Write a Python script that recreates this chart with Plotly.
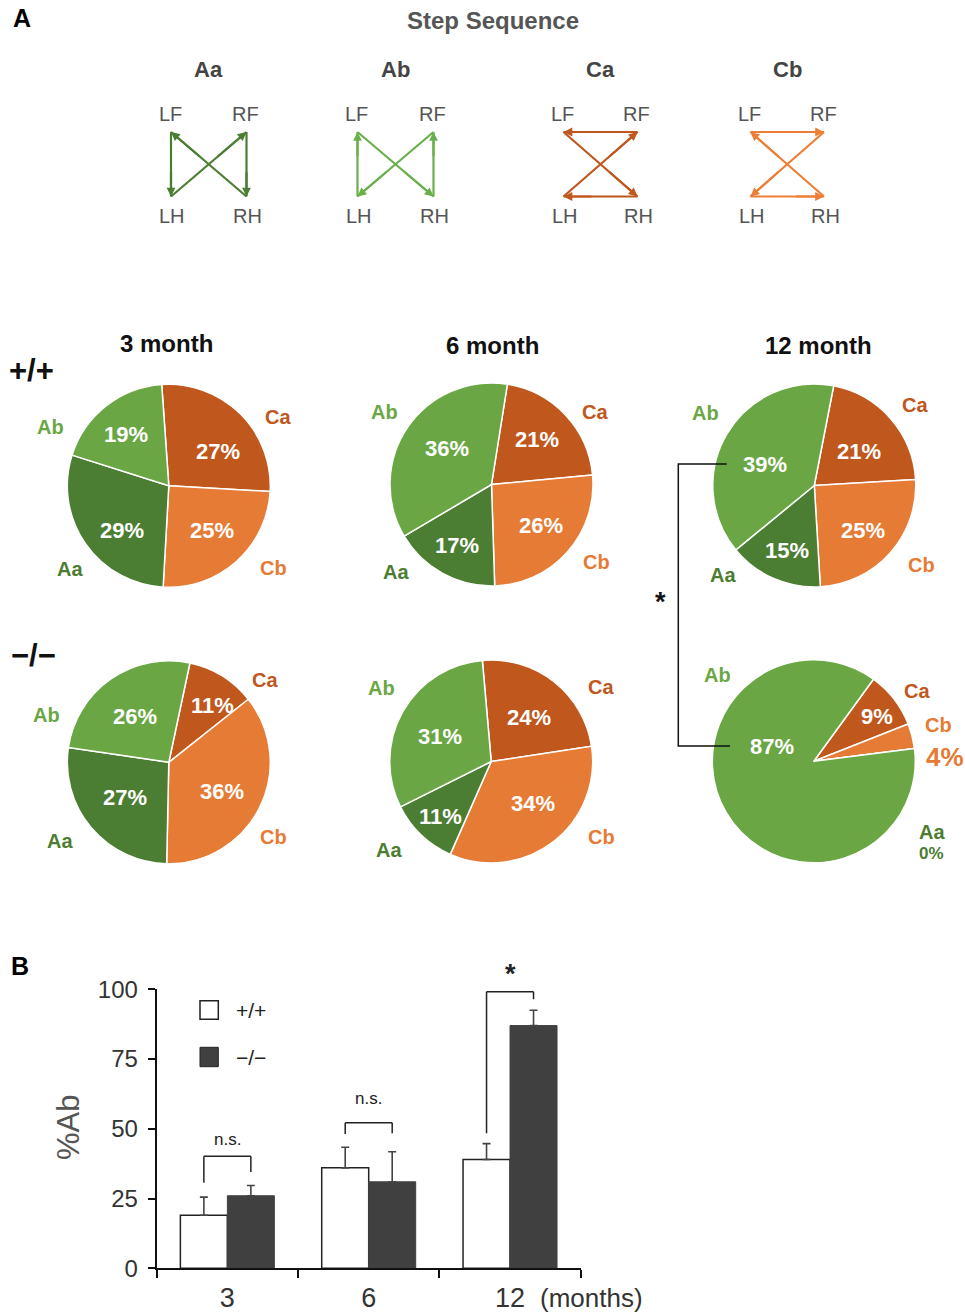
import plotly.graph_objects as go

W, H = 965, 1313

# ---------------- data ----------------
patterns = ["Ca", "Cb", "Aa", "Ab"]            # slice order, clockwise
pattern_colors = ["#c0571d", "#e57b35", "#4b7d32", "#6aa744"]

pie_months = ["3 month", "6 month", "12 month"]
genotypes = ["+/+", "\u2212/\u2212"]
wt_3m = [27, 25, 29, 19]
wt_6m = [21, 26, 17, 36]
wt_12m = [21, 25, 15, 39]
ko_3m = [11, 36, 27, 26]
ko_6m = [24, 34, 11, 31]
ko_12m = [9, 4, 0, 87]

bar_months = ["3", "6", "12"]
ab_wt = [19, 36, 39]
ab_ko = [26, 31, 87]
sem_wt = [6.5, 7.4, 5.7]
sem_ko = [3.7, 10.8, 5.5]
sig_labels = ["n.s.", "n.s.", "*"]

step_names = ["Aa", "Ab", "Ca", "Cb"]
step_seqs = [["LF", "LH", "RF", "RH", "LF"],
             ["LF", "RH", "RF", "LH", "LF"],
             ["LF", "RH", "LH", "RF", "LF"],
             ["LF", "RF", "LH", "RH", "LF"]]
step_colors = ["#4b7d32", "#6ab04a", "#c0571d", "#ee7d36"]


def px(x):
    return x / W


def py(y):
    return 1 - y / H


fig = go.Figure()
ann = []
shapes = []

FONT = "Liberation Sans, Arial, sans-serif"


def text(x, y, s, size, color="#000", bold=False, **kw):
    d = dict(x=px(x), y=py(y), xref="paper", yref="paper", text=("<b>%s</b>" % s) if bold else s,
             showarrow=False, xanchor="center", yanchor="middle",
             font=dict(family=FONT, size=size, color=color))
    d.update(kw)
    ann.append(d)


# ---------------- panel A: step sequences ----------------
text(22, 18, "A", 25, "#000", True)
text(493, 21, "Step Sequence", 24, "#555", True)

diag_x = [(171, 246.5), (357.5, 433.5), (563.5, 637.5), (750.5, 824)]
top_y, bot_y = 132, 196.5
for name, seq, col, (lx, rx) in zip(step_names, step_seqs, step_colors, diag_x):
    corners = {"LF": (lx, top_y), "RF": (rx, top_y), "LH": (lx, bot_y), "RH": (rx, bot_y)}
    text((lx + rx) / 2, 69, name, 22, "#444", True)
    text(lx - 1, 114, "LF", 20, "#555")
    text(rx - 1, 114, "RF", 20, "#555")
    text(lx + 1, 216, "LH", 20, "#555")
    text(rx + 1, 216, "RH", 20, "#555")
    for a, b in zip(seq[:-1], seq[1:]):
        (x0, y0), (x1, y1) = corners[a], corners[b]
        shapes.append(dict(type="line", xref="paper", yref="paper",
                           x0=px(x0), y0=py(y0), x1=px(x1), y1=py(y1),
                           line=dict(color=col, width=2.2)))
        ann.append(dict(x=px(x1), y=py(y1), xref="paper", yref="paper", text="",
                        showarrow=True, axref="pixel", ayref="pixel",
                        ax=(x0 - x1) * 0.4, ay=(y0 - y1) * 0.4,
                        arrowhead=2, arrowsize=0.8, arrowwidth=2.2, arrowcolor=col,
                        standoff=0, startstandoff=0))

# ---------------- panel A: pies ----------------
R = 101.5
pies = [
    (wt_3m, (168.8, 485.8), -4,
     [(278.3, 417.3), (273.3, 568.3), (70, 569.3), (50, 427.3)],
     [(218.3, 451.7), (211.7, 530), (121.7, 530.7), (126, 435)]),
    (wt_6m, (491.5, 484.5), 9,
     [(595, 412), (596, 562), (396, 572), (384, 412)],
     [(537, 440), (541, 526), (457, 545), (447, 448)]),
    (wt_12m, (814.3, 485.5), 11,
     [(915, 405), (921.7, 565), (722.7, 575), (705, 413.3)],
     [(859.3, 451.7), (862.7, 530.7), (786.7, 550), (765, 465)]),
    (ko_3m, (168.8, 762.3), 12,
     [(265, 680), (273.3, 837.3), (60, 840.7), (46.7, 715)],
     [(212.7, 705), (221.7, 791.7), (125, 797.3), (135, 716)]),
    (ko_6m, (491.2, 761.5), -5,
     [(600.7, 686.7), (601.7, 836.7), (389.3, 850), (381.7, 688.3)],
     [(529.3, 717.3), (532.7, 803.3), (440, 816.7), (440, 736.7)]),
    (ko_12m, (813.8, 761.3), 36,
     [(916.7, 690.7), (938.3, 725), (931.7, 831.7), (717.3, 675)],
     [(876.7, 716.7), (945, 756.7), (931.7, 853.3), (771.7, 746)]),
]
# special styling of the percentage labels of the last pie (outside labels)
pct_style = {(5, 1): (26, pattern_colors[1]), (5, 2): (17, pattern_colors[2])}

for k, (vals, (cx, cy), rot, lab_pos, pct_pos) in enumerate(pies):
    fig.add_trace(go.Pie(
        values=vals, labels=patterns, sort=False, direction="clockwise", rotation=rot,
        marker=dict(colors=pattern_colors, line=dict(color="white", width=1.5)),
        textinfo="none", hoverinfo="label+percent", automargin=False,
        domain=dict(x=[px(cx - R), px(cx + R)], y=[py(cy + R), py(cy - R)]),
    ))
    for j, (lab, col) in enumerate(zip(patterns, pattern_colors)):
        text(lab_pos[j][0], lab_pos[j][1], lab, 20, col, True)
        size, pcol = pct_style.get((k, j), (22, "white"))
        text(pct_pos[j][0], pct_pos[j][1], "%d%%" % vals[j], size, pcol, True)

text(166.7, 343.3, pie_months[0], 24, "#111", True)
text(493, 345, pie_months[1], 24, "#111", True)
text(818.3, 345, pie_months[2], 24, "#111", True)
text(31.5, 370.7, genotypes[0], 31, "#111", True)
text(33.3, 655, genotypes[1], 31, "#111", True)

# significance bracket between 12-month pies
shapes.append(dict(type="path", xref="paper", yref="paper",
                   path="M %f,%f L %f,%f L %f,%f L %f,%f" % (
                       px(726.7), py(464), px(678.3), py(464), px(678.3), py(746), px(730), py(746)),
                   line=dict(color="#111", width=1.5)))
text(660.7, 601.7, "*", 27, "#111", True)

# ---------------- panel B: bar chart ----------------
text(20, 966, "B", 25, "#000", True)

bargap = 0.335
fig.add_trace(go.Bar(
    x=bar_months, y=ab_wt, name=genotypes[0],
    marker=dict(color="white", line=dict(color="#222", width=1.5)),
    error_y=dict(type="data", array=sem_wt, arrayminus=[0] * 3, symmetric=False,
                 color="#444", thickness=1.6, width=4),
    xaxis="x", yaxis="y", showlegend=False))
fig.add_trace(go.Bar(
    x=bar_months, y=ab_ko, name=genotypes[1],
    marker=dict(color="#404040", line=dict(color="#404040", width=1)),
    error_y=dict(type="data", array=sem_ko, arrayminus=[0] * 3, symmetric=False,
                 color="#444", thickness=1.6, width=4),
    xaxis="x", yaxis="y", showlegend=False))

# significance brackets (y in data units)
br_left = [30.7, 48.1, 48.4]
br_right = [34.5, 48.4, 96.4]
br_top = [40.2, 52.2, 99.1]
sig_y = [46, 61, 105.5]
y0_px, y100_px = 1268.3, 989.3
off = (1 - bargap) / 4
for i in range(3):
    xl, xr = i - off, i + off
    for (a, b, c, d) in [(xl, br_left[i], xl, br_top[i]), (xl, br_top[i], xr, br_top[i]),
                         (xr, br_top[i], xr, br_right[i])]:
        shapes.append(dict(type="line", xref="x", yref="y", x0=a, y0=b, x1=c, y1=d,
                           line=dict(color="#222", width=1.5)))
    is_star = sig_labels[i] == "*"
    ypx = y0_px + (y100_px - y0_px) * sig_y[i] / 100.0
    ann.append(dict(x=i, y=py(ypx), xref="x", yref="paper",
                    text="<b>*</b>" if is_star else sig_labels[i], showarrow=False,
                    xanchor="center", yanchor="middle",
                    font=dict(family=FONT, size=27 if is_star else 17, color="#222")))

# legend (drawn)
shapes.append(dict(type="rect", xref="paper", yref="paper", x0=px(200), x1=px(218.3),
                   y0=py(1019.3), y1=py(1000.7), fillcolor="white", line=dict(color="#222", width=1.5)))
shapes.append(dict(type="rect", xref="paper", yref="paper", x0=px(200), x1=px(218.3),
                   y0=py(1066.7), y1=py(1047.3), fillcolor="#404040", line=dict(color="#222", width=1)))
text(251, 1010, genotypes[0], 21, "#222")
text(251, 1057, genotypes[1], 21, "#222")

text(68, 1128, "%Ab", 31, "#555", textangle=-90)
text(591, 1298, "(months)", 26, "#333")

fig.update_layout(
    width=W, height=H, margin=dict(l=0, r=0, t=0, b=0, pad=0), autosize=False,
    paper_bgcolor="white", plot_bgcolor="white", showlegend=False,
    barmode="group", bargap=bargap, bargroupgap=0,
    xaxis=dict(domain=[px(156.7), px(580.7)], type="category", range=[-0.5, 2.5],
               tickson="boundaries", ticks="outside", ticklen=8, tickwidth=2, tickcolor="#111",
               showline=True, linecolor="#111", linewidth=2, showgrid=False, zeroline=False,
               automargin=False, fixedrange=True, ticklabelstandoff=4,
               tickfont=dict(family=FONT, size=27, color="#333")),
    yaxis=dict(domain=[py(y0_px), py(y100_px)], range=[0, 100], tickvals=[0, 25, 50, 75, 100],
               ticks="outside", ticklen=7, tickwidth=2, tickcolor="#111",
               showline=True, linecolor="#111", linewidth=2, showgrid=False, zeroline=False,
               automargin=False, fixedrange=True, ticklabelstandoff=5,
               tickfont=dict(family=FONT, size=24, color="#333")),
    annotations=ann, shapes=shapes,
)

fig.write_html("out.html")
